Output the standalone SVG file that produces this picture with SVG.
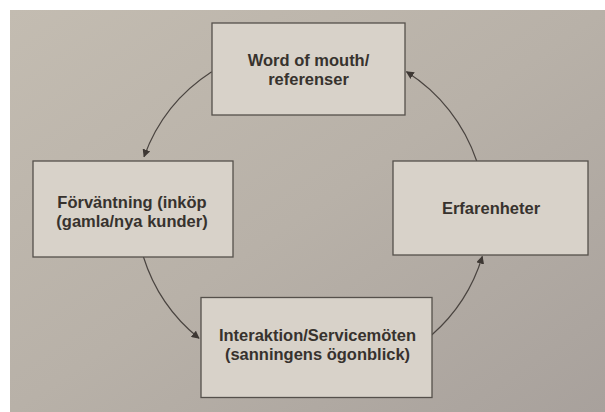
<svg xmlns="http://www.w3.org/2000/svg" width="605" height="412" viewBox="0 0 605 412">
<defs>
<linearGradient id="page" x1="0" y1="0" x2="1" y2="1">
<stop offset="0" stop-color="#c3bcb1"/>
<stop offset="0.5" stop-color="#b8b1a8"/>
<stop offset="1" stop-color="#a8a19c"/>
</linearGradient>
<marker id="ah" viewBox="0 0 10 10" refX="9" refY="5" markerWidth="8" markerHeight="8" markerUnits="userSpaceOnUse" orient="auto">
<path d="M0,0 L10,5 L0,10 Z" fill="#3e3834"/>
</marker>
<style>
.box{fill:#d8d2c9;stroke:#55504b;stroke-width:1.3}
.lbl{font-family:"Liberation Sans",Arial,sans-serif;font-weight:bold;font-size:16.5px;fill:#37322e;text-anchor:middle}
.conn{fill:none;stroke:#4a4440;stroke-width:1.2;marker-end:url(#ah)}
</style>
</defs>
<rect x="0" y="0" width="605" height="412" fill="#ffffff"/>
<rect x="10" y="10" width="595" height="402" fill="url(#page)"/>
<g id="connectors">
<path class="conn" d="M211.7,71.7 A170,170 0 0 0 144,156.7"/>
<path class="conn" d="M143.3,256.5 A170,170 0 0 0 199,338.3"/>
<path class="conn" d="M431.7,335 A170,170 0 0 0 482.3,256.5"/>
<path class="conn" d="M476.7,161 A170,170 0 0 0 406.5,71.7"/>
</g>
<g id="word-of-mouth">
<rect class="box" x="212" y="23" width="193" height="92"/>
<text class="lbl" x="308.5" y="66">Word of mouth/</text>
<text class="lbl" x="308.5" y="85">referenser</text>
</g>
<g id="forvantning">
<rect class="box" x="33" y="161" width="200" height="96"/>
<text class="lbl" x="132" y="207.5">Förväntning (inköp</text>
<text class="lbl" x="132" y="226.5">(gamla/nya kunder)</text>
</g>
<g id="erfarenheter">
<rect class="box" x="393" y="161" width="195" height="94"/>
<text class="lbl" x="491" y="214">Erfarenheter</text>
</g>
<g id="interaktion">
<rect class="box" x="201" y="297.5" width="231" height="100"/>
<text class="lbl" x="317.5" y="340.5">Interaktion/Servicemöten</text>
<text class="lbl" x="317.5" y="359.5">(sanningens ögonblick)</text>
</g>
</svg>
